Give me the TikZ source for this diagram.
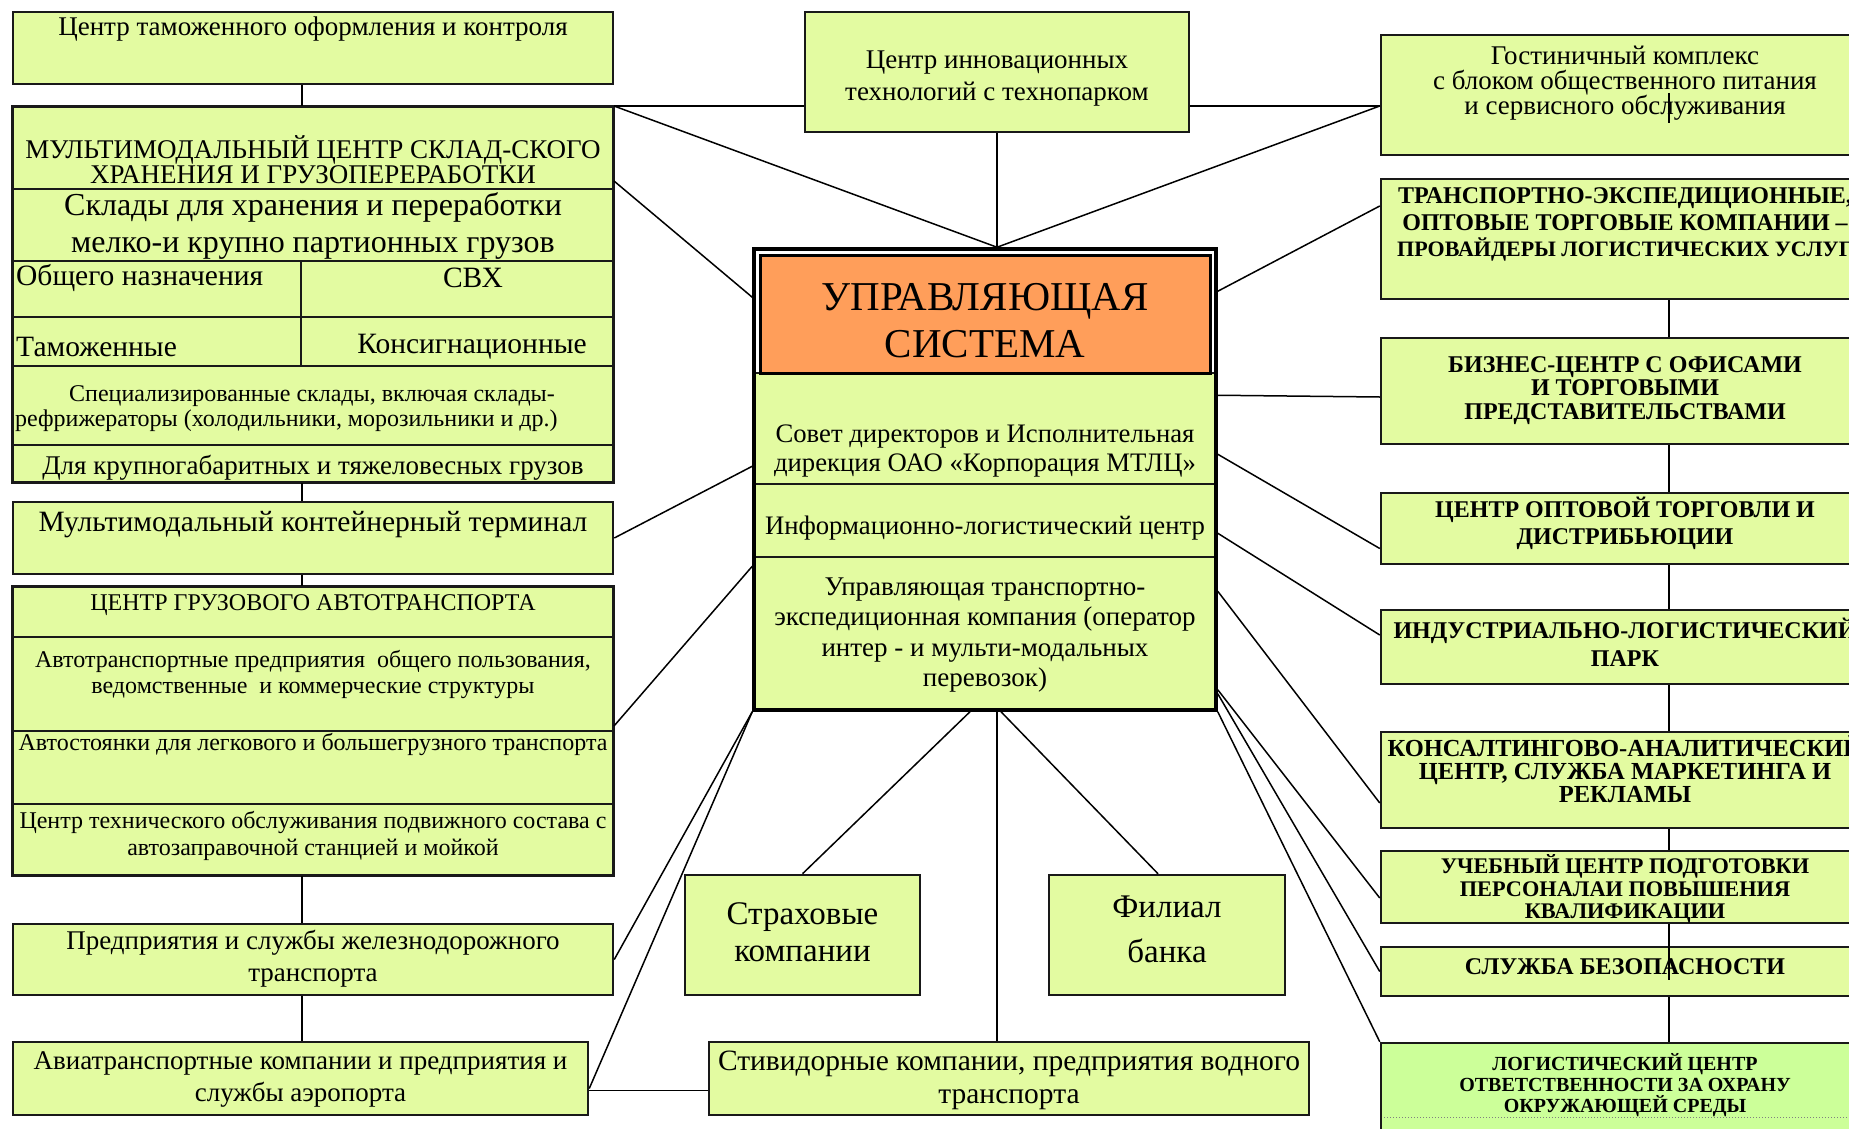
\documentclass[tikz,border=0pt]{standalone}
\usepackage{fontspec}
\setmainfont{Liberation Serif}
\usetikzlibrary{calc,positioning}
\definecolor{lgreen}{RGB}{227,251,161}
\definecolor{dgreen}{RGB}{204,255,153}
\definecolor{orng}{RGB}{255,158,90}
\newcommand\fsz[2]{\fontsize{#1}{#2}\selectfont}

\begin{document}
\begin{tikzpicture}[x=1pt,y=-1pt,
    box/.style={draw=black!90,line width=2.5pt,fill=lgreen,inner sep=0pt},
    cell/.style={draw=black!90,line width=2pt,fill=lgreen,inner sep=0pt},
    link/.style={line width=1.5pt},
    txt/.style={align=center,inner sep=0pt},
    btxt/.style={align=center,inner sep=0pt,font=\bfseries}]
    \useasboundingbox (0,0) rectangle (1849,1129);
    \clip (0,0) rectangle (1849,1129);

    % left column
    \node[box,minimum width=600pt,minimum height=72pt] (customs) at (313,48) {};
    \node[cell,minimum width=600pt,minimum height=82pt] (wtitle) at (313,148) {};
    \node[cell,minimum width=600pt,minimum height=72pt] (sklady) at (313,225) {};
    \node[cell,minimum width=288pt,minimum height=56pt] (obsh) at (157,289) {};
    \node[cell,minimum width=312pt,minimum height=56pt] (svh) at (457,289) {};
    \node[cell,minimum width=288pt,minimum height=49pt] (tam) at (157,341.5) {};
    \node[cell,minimum width=312pt,minimum height=49pt] (konsig) at (457,341.5) {};
    \node[cell,minimum width=600pt,minimum height=79pt] (spec) at (313,405.5) {};
    \node[cell,minimum width=600pt,minimum height=37pt] (krupn) at (313,463.5) {};
    \draw[line width=2.5pt,black!90] (wtitle.north west) rectangle (krupn.south east);
    \node[box,minimum width=600pt,minimum height=72pt] (term) at (313,538) {};
    \node[cell,minimum width=600pt,minimum height=50pt] (gtitle) at (313,612) {};
    \node[cell,minimum width=600pt,minimum height=94pt] (avtotr) at (313,684) {};
    \node[cell,minimum width=600pt,minimum height=73pt] (avtost) at (313,767.5) {};
    \node[cell,minimum width=600pt,minimum height=71pt] (tehn) at (313,839.5) {};
    \draw[line width=2.5pt,black!90] (gtitle.north west) rectangle (tehn.south east);
    \node[box,minimum width=600pt,minimum height=71pt] (rail) at (313,959.5) {};
    \node[box,minimum width=575pt,minimum height=73pt] (avia) at (300.5,1078.5) {};

    \node[txt,font=\fsz{27}{30}] (customs-t) at (313,29.5) {Центр таможенного оформления и контроля};
    \node[txt,font=\fsz{27}{25}] (wtitle-t) at (313,160) {МУЛЬТИМОДАЛЬНЫЙ ЦЕНТР СКЛАД-СКОГО\\ХРАНЕНИЯ И ГРУЗОПЕРЕРАБОТКИ};
    \node[txt,font=\fsz{32}{36.5}] (sklady-t) at (313,226) {Склады для хранения и переработки\\мелко-и крупно партионных грузов};
    \node[txt,font=\fsz{29.5}{32},anchor=west] (obsh-t) at (16,278) {Общего назначения};
    \node[txt,font=\fsz{29.5}{32}] (svh-t) at (473,278) {СВХ};
    \node[txt,font=\fsz{29.5}{32},anchor=west] (tam-t) at (16,347) {Таможенные};
    \node[txt,font=\fsz{29.5}{32}] (konsig-t) at (472,347) {Консигнационные};
    \node[txt,font=\fsz{24}{25},align=left,anchor=west] (spec-t) at (15,408.5) {\hspace*{54pt}Специализированные склады, включая склады-\\рефрижераторы (холодильники, морозильники и др.)};
    \node[txt,font=\fsz{27}{30}] (krupn-t) at (313,468) {Для крупногабаритных и тяжеловесных грузов};
    \node[txt,font=\fsz{29.5}{32}] (term-t) at (313,525) {Мультимодальный контейнерный терминал};
    \node[txt,font=\fsz{24}{26}] (gtitle-t) at (313,605) {ЦЕНТР ГРУЗОВОГО АВТОТРАНСПОРТА};
    \node[txt,font=\fsz{24}{26}] (avtotr-t) at (313,674.5) {Автотранспортные предприятия\ \ общего пользования,\\ведомственные\ \ и коммерческие структуры};
    \node[txt,font=\fsz{24}{26}] (avtost-t) at (313,744) {Автостоянки для легкового и большегрузного транспорта};
    \node[txt,font=\fsz{24}{27}] (tehn-t) at (313,835.5) {Центр технического обслуживания подвижного состава с\\автозаправочной станцией и мойкой};
    \node[txt,font=\fsz{27}{32}] (rail-t) at (313,959) {Предприятия и службы железнодорожного\\транспорта};
    \node[txt,font=\fsz{27}{32}] (avia-t) at (300.5,1079.5) {Авиатранспортные компании и предприятия и\\службы аэропорта};

    % centre
    \node[box,minimum width=384pt,minimum height=120pt] (innov) at (997,72) {};
    \node[cell,minimum width=462pt,minimum height=111pt] (sovet) at (985,428.5) {};
    \node[cell,minimum width=462pt,minimum height=73pt] (info) at (985,520.5) {};
    \node[cell,minimum width=462pt,minimum height=153pt] (upr) at (985,633.5) {};
    \node[draw=black,line width=3pt,fill=orng,inner sep=0pt,minimum width=450pt,minimum height=118pt] (head) at (985,314) {};
    \node[draw=black,line width=3.5pt,inner sep=0pt,minimum width=462pt,minimum height=461pt] (ctrl) at (985,479.5) {};
    \node[box,minimum width=235pt,minimum height=120pt] (strah) at (802.5,935) {};
    \node[box,minimum width=236pt,minimum height=120pt] (fil) at (1167,935) {};
    \node[box,minimum width=600pt,minimum height=73pt] (stev) at (1009,1078.5) {};

    \node[txt,font=\fsz{27}{32}] (innov-t) at (997,78.5) {Центр инновационных\\технологий с технопарком};
    \node[txt,font=\fsz{41}{47}] (head-t) at (985,320.5) {УПРАВЛЯЮЩАЯ\\СИСТЕМА};
    \node[txt,font=\fsz{26.7}{29.5}] (sovet-t) at (985,451) {Совет директоров и Исполнительная\\дирекция ОАО «Корпорация МТЛЦ»};
    \node[txt,font=\fsz{26.7}{29}] (info-t) at (985,528) {Информационно-логистический центр};
    \node[txt,font=\fsz{27}{30.3}] (upr-t) at (985,635) {Управляющая транспортно-\\экспедиционная компания (оператор\\интер - и мульти-модальных\\перевозок)};
    \node[txt,font=\fsz{33}{36.5}] (strah-t) at (802.5,932) {Страховые\\компании};
    \node[txt,font=\fsz{33}{45}] (fil-t) at (1167,929) {Филиал\\банка};
    \node[txt,font=\fsz{29.5}{33}] (stev-t) at (1009,1080) {Стивидорные компании, предприятия водного\\транспорта};

    % right column
    \node[box,minimum width=488pt,minimum height=120pt] (gost) at (1625,95) {};
    \node[box,minimum width=488pt,minimum height=120pt] (trans) at (1625,239) {};
    \node[box,minimum width=488pt,minimum height=106pt] (biz) at (1625,391) {};
    \node[box,minimum width=488pt,minimum height=71pt] (opt) at (1625,528.5) {};
    \node[box,minimum width=488pt,minimum height=74pt] (ind) at (1625,647) {};
    \node[box,minimum width=488pt,minimum height=96pt] (consult) at (1625,780) {};
    \node[box,minimum width=488pt,minimum height=72pt] (ucheb) at (1625,887) {};
    \node[box,minimum width=488pt,minimum height=49pt] (sluzh) at (1625,971.5) {};
    \node[box,fill=dgreen,minimum width=488pt,minimum height=97pt] (logc) at (1625,1091.5) {};
    \draw[gray,dotted,line width=1pt] (1384,1117) -- (1849,1117);

    \node[txt,font=\fsz{27}{25.3}] (gost-t) at (1625,83) {Гостиничный комплекс\\с блоком общественного питания\\и сервисного обслуживания};
    \node[btxt,font=\bfseries\fsz{24}{26.5}] (trans-t) at (1625,224.5) {ТРАНСПОРТНО-ЭКСПЕДИЦИОННЫЕ,\\ОПТОВЫЕ ТОРГОВЫЕ КОМПАНИИ –\\{\fsz{22}{26.5}ПРОВАЙДЕРЫ ЛОГИСТИЧЕСКИХ УСЛУГ}};
    \node[btxt,font=\bfseries\fsz{24}{23.6}] (biz-t) at (1625,390.3) {БИЗНЕС-ЦЕНТР С ОФИСАМИ\\И ТОРГОВЫМИ\\ПРЕДСТАВИТЕЛЬСТВАМИ};
    \node[btxt,font=\bfseries\fsz{24}{27}] (opt-t) at (1625,523) {ЦЕНТР ОПТОВОЙ ТОРГОВЛИ И\\ДИСТРИБЬЮЦИИ};
    \node[btxt,font=\bfseries\fsz{24}{28.3}] (ind-t) at (1625,642.6) {ИНДУСТРИАЛЬНО-ЛОГИСТИЧЕСКИЙ\\ПАРК};
    \node[btxt,font=\bfseries\fsz{24.5}{23}] (consult-t) at (1625,769.4) {КОНСАЛТИНГОВО-АНАЛИТИЧЕСКИЙ\\ЦЕНТР, СЛУЖБА МАРКЕТИНГА И\\РЕКЛАМЫ};
    \node[btxt,font=\bfseries\fsz{22.3}{22.4}] (ucheb-t) at (1625,889) {УЧЕБНЫЙ ЦЕНТР ПОДГОТОВКИ\\ПЕРСОНАЛАИ ПОВЫШЕНИЯ\\КВАЛИФИКАЦИИ};
    \node[btxt,font=\bfseries\fsz{24}{26}] (sluzh-t) at (1625,967) {СЛУЖБА БЕЗОПАСНОСТИ};
    \node[btxt,font=\bfseries\fsz{20}{21.2}] (logc-t) at (1625,1085) {ЛОГИСТИЧЕСКИЙ ЦЕНТР\\ОТВЕТСТВЕННОСТИ ЗА ОХРАНУ\\ОКРУЖАЮЩЕЙ СРЕДЫ};

    % connectors
    \coordinate (rx) at (1669,0);
    \coordinate (jn) at (innov.south |- ctrl.north);
    \draw[link] (wtitle.north east) -- (innov.west |- wtitle.north east);
    \draw[link] (innov.east |- wtitle.north east) -- (gost.west |- wtitle.north east);
    \draw[link] (wtitle.north east) -- (jn);
    \draw[link] (gost.west |- wtitle.north east) -- (jn);
    \draw[link] (innov.south) -- (jn);

    \draw[link] (customs.south -| obsh.east) -- (wtitle.north -| obsh.east);
    \draw[link] (krupn.south -| obsh.east) -- (term.north -| obsh.east);
    \draw[link] (term.south -| obsh.east) -- (gtitle.north -| obsh.east);
    \draw[link] (tehn.south -| obsh.east) -- (rail.north -| obsh.east);
    \draw[link] (rail.south -| obsh.east) -- (avia.north -| obsh.east);

    \draw[link] ($(wtitle.south east)+(0,-9)$) -- ($(ctrl.north west)+(0,50)$);
    \draw[link] (term.east) -- ($(ctrl.north west)+(0,219)$);
    \draw[link] ($(avtotr.south east)+(0,-6)$) -- ($(ctrl.north west)+(0,319)$);
    \draw[link] (rail.east) -- (ctrl.south west);
    \draw[link] ($(avia.east)+(0,10)$) -- (ctrl.south west);
    \draw[link] ($(avia.east)+(0,12)$) coordinate (av) -- (av -| stev.west);

    \draw[link] ($(ctrl.south)+(-15,0)$) -- (strah.north);
    \draw[link] (jn |- ctrl.south) -- (jn |- stev.north);
    \draw[link] ($(ctrl.south)+(16,0)$) -- ($(fil.north)+(-9,0)$);

    \draw[link] ($(ctrl.north east)+(0,44)$) -- ($(trans.west)+(0,-33)$);
    \draw[link] ($(ctrl.north east)+(0,148)$) -- ($(biz.west)+(0,6)$);
    \draw[link] ($(ctrl.north east)+(0,207)$) -- ($(opt.west)+(0,20)$);
    \draw[link] ($(ctrl.north east)+(0,286)$) -- ($(ind.west)+(0,-12)$);
    \draw[link] ($(ctrl.north east)+(0,344)$) -- ($(consult.west)+(0,23)$);
    \draw[link] ($(ctrl.south east)+(0,-22)$) -- ($(ucheb.west)+(0,11)$);
    \draw[link] ($(ctrl.south east)+(0,-18)$) -- (sluzh.west);
    \draw[link] (ctrl.south east) -- (logc.north west);

    \draw[link] (trans.south -| rx) -- (biz.north -| rx);
    \draw[link] (biz.south -| rx) -- (opt.north -| rx);
    \draw[link] (opt.south -| rx) -- (ind.north -| rx);
    \draw[link] (ind.south -| rx) -- (consult.north -| rx);
    \draw[link] (consult.south -| rx) -- (ucheb.north -| rx);
    \draw[link] (ucheb.south -| rx) -- ++(0,56);
    \draw[link] (sluzh.south -| rx) -- (logc.north -| rx);
    \draw[link] (1669,93) -- (1669,123);
\end{tikzpicture}
\end{document}
